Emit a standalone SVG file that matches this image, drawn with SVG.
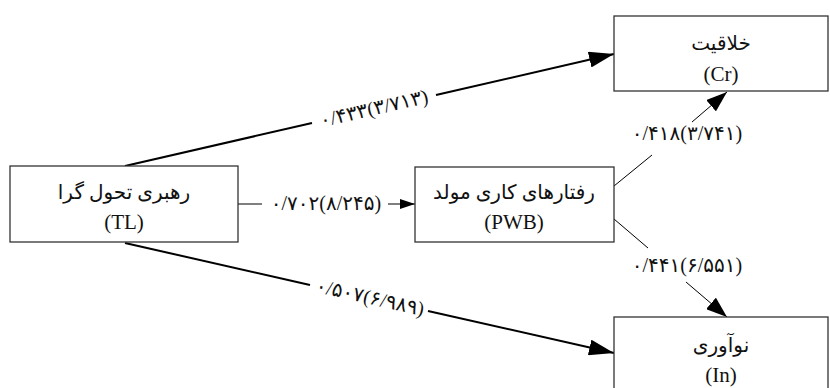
<svg xmlns="http://www.w3.org/2000/svg" width="830" height="388" viewBox="0 0 830 388">
<style>
.box{fill:#fff;stroke:#333;stroke-width:1.3}
.fa{font-family:"Liberation Serif","DejaVu Sans",serif;font-size:20px;fill:#111;text-anchor:middle}
.en{font-family:"Liberation Serif",serif;font-size:21px;fill:#111;text-anchor:middle}
.lb{font-family:"Liberation Serif","DejaVu Sans",serif;font-size:20px;letter-spacing:0.6px;fill:#111;text-anchor:middle}
.thick{stroke:#000;stroke-width:2;fill:none}
.thin{stroke:#000;stroke-width:1;fill:none}
</style>
<defs>
<marker id="ahL" markerUnits="userSpaceOnUse" markerWidth="26" markerHeight="16" refX="25" refY="8" orient="auto"><path d="M0,0 L25,8 L0,16 z" fill="#000"/></marker>
<marker id="ahM" markerUnits="userSpaceOnUse" markerWidth="22" markerHeight="15" refX="21" refY="7.5" orient="auto"><path d="M0,0 L21,7.5 L0,15 z" fill="#000"/></marker>
<marker id="ahS" markerUnits="userSpaceOnUse" markerWidth="16" markerHeight="10" refX="15" refY="5" orient="auto"><path d="M0,0 L15,5 L0,10 z" fill="#000"/></marker>
</defs>
<rect width="830" height="388" fill="#fff"/>
<g id="connectors">
<path class="thick" d="M125,166 L312,123"/>
<path class="thick" d="M436,95 L614,54" marker-end="url(#ahL)"/>
<text class="lb" x="374" y="115" transform="rotate(-12.9 374 109)">۰/۴۳۳(۳/۷۱۳)</text>
<path class="thick" d="M125,243 L310,285"/>
<path class="thick" d="M428,311 L614,353" marker-end="url(#ahL)"/>
<text class="lb" x="370" y="304" transform="rotate(12.7 370 298)">۰/۵۰۷(۶/۹۸۹)</text>
<path class="thin" d="M238,204 L262,204"/>
<path class="thin" d="M388,204 L415,204" marker-end="url(#ahS)"/>
<text class="lb" x="326" y="210">۰/۷۰۲(۸/۲۴۵)</text>
<path class="thin" d="M614,186 L652,155"/>
<path class="thin" d="M692,122 L727,92" marker-end="url(#ahM)"/>
<text class="lb" x="687" y="140">۰/۴۱۸(۳/۷۴۱)</text>
<path class="thin" d="M614,219 L648,248"/>
<path class="thin" d="M686,282 L727,317" marker-end="url(#ahM)"/>
<text class="lb" x="687" y="272">۰/۴۴۱(۶/۵۵۱)</text>
</g>
<g id="TL">
<rect class="box" x="10" y="166" width="228" height="76"/>
<text class="fa" x="124" y="199">رهبری تحول گرا</text>
<text class="en" x="124" y="229">(TL)</text>
</g>
<g id="PWB">
<rect class="box" x="415" y="167" width="199" height="75"/>
<text class="fa" x="514" y="199">رفتارهای کاری مولد</text>
<text class="en" x="514" y="229">(PWB)</text>
</g>
<g id="Cr">
<rect class="box" x="614" y="16" width="214" height="75"/>
<text class="fa" x="721" y="50">خلاقیت</text>
<text class="en" x="721" y="81">(Cr)</text>
</g>
<g id="In">
<rect class="box" x="614" y="317" width="214" height="80"/>
<text class="fa" x="721" y="352">نوآوری</text>
<text class="en" x="721" y="382">(In)</text>
</g>
</svg>
